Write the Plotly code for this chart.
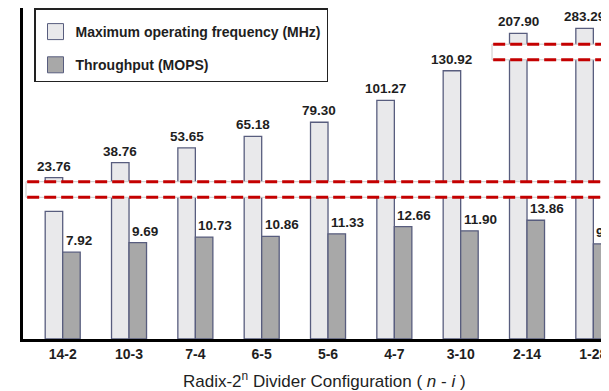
import plotly.graph_objects as go

# ---------------- data ----------------
categories = ["14-2", "10-3", "7-4", "6-5", "5-6", "4-7", "3-10", "2-14", "1-28"]
max_freq_mhz = [23.76, 38.76, 53.65, 65.18, 79.30, 101.27, 130.92, 207.90, 283.29]
throughput_mops = [7.92, 9.69, 10.73, 10.86, 11.33, 12.66, 11.90, 13.86, 9.47]

freq_name = "Maximum operating frequency (MHz)"
thr_name = "Throughput (MOPS)"
x_title = "Radix-2<sup>n</sup> Divider Configuration ( <i>n</i> - <i>i</i> )"

# ---------------- style ----------------
OFF = 8                      # page body margin in the browser
W, H = 609 - OFF, 391 - OFF
ML, MR, MT, MB = 23 - OFF, 0, 0, 52
PH = H - MT - MB             # plot height in px
PW = W - ML - MR


def py(p):  # page pixel row -> paper y
    return 1 - (p - OFF - MT) / PH


def px(p):  # page pixel column -> paper x
    return (p - OFF - ML) / PW


FONT = "Arial, Liberation Sans, sans-serif"
TXT = "#1e1e1e"
LIGHT = "#e9e9eb"
DARK = "#a8a8a8"
EDGE = "#585d7e"
RED = "#c40000"

LOW_RANGE = [-8.25, 19.59]     # lower segment (throughput)
MID_RANGE = [11.9, 149.7]      # middle segment (frequency)
TOP_RANGE = [-74.1, 589.4]     # top segment (very high frequency)
BREAK1_PX, BREAK2_PX, HALF = 189.5, 52.0, 7.8
BAR_W = 0.264

fig = go.Figure()

bar_line = dict(color=EDGE, width=1.3)

# lower segment: throughput + clipped frequency bars
fig.add_trace(go.Bar(x=categories, y=max_freq_mhz, base=LOW_RANGE[0], width=BAR_W, offset=-BAR_W,
                     marker=dict(color=LIGHT, line=bar_line), yaxis="y", showlegend=False))
fig.add_trace(go.Bar(x=categories, y=[v - LOW_RANGE[0] for v in throughput_mops], base=LOW_RANGE[0],
                     width=BAR_W, offset=0,
                     marker=dict(color=DARK, line=bar_line), yaxis="y", showlegend=False))
# middle segment
fig.add_trace(go.Bar(x=categories, y=max_freq_mhz, width=BAR_W, offset=-BAR_W,
                     marker=dict(color=LIGHT, line=bar_line), yaxis="y2", showlegend=False))
# top segment: only values above the middle break
hi_cats = [c for c, v in zip(categories, max_freq_mhz) if v > MID_RANGE[1]]
hi_vals = [v for v in max_freq_mhz if v > MID_RANGE[1]]
fig.add_trace(go.Bar(x=hi_cats, y=hi_vals, width=BAR_W, offset=-BAR_W,
                     marker=dict(color=LIGHT, line=bar_line), yaxis="y3", showlegend=False))

# legend entries
fig.add_trace(go.Scatter(x=[None], y=[None], mode="markers", name=freq_name, legendgroup="f",
                         marker=dict(symbol="square", size=16, color=LIGHT, line=dict(color=EDGE, width=1))))
fig.add_trace(go.Scatter(x=[None], y=[None], mode="markers", name=thr_name, legendgroup="t",
                         marker=dict(symbol="square", size=16, color=DARK, line=dict(color=EDGE, width=1))))

annotations = []
lab_font = dict(family=FONT, size=13.5, color=TXT, weight="bold")
for c, v in zip(categories, max_freq_mhz):
    annotations.append(dict(x=c, y=v, yref="y2" if v <= MID_RANGE[1] else "y3", xref="x",
                            text=f"{v:.2f}", showarrow=False, yanchor="bottom", xanchor="center",
                            xshift=-8.75, yshift=2, font=lab_font))
for c, v in zip(categories, throughput_mops):
    annotations.append(dict(x=c, y=v, yref="y", xref="x", text=f"{v:.2f}", showarrow=False,
                            yanchor="bottom", xanchor="left", xshift=1, yshift=2, font=lab_font))
annotations.append(dict(x=px(324), y=py(380), xref="paper", yref="paper",
                        text=x_title, showarrow=False, xanchor="center", yanchor="middle",
                        font=dict(family=FONT, size=17, color=TXT)))

shapes = []
for cpx, x0 in ((BREAK1_PX, px(26)), (BREAK2_PX, px(492))):
    y_top, y_bot = py(cpx - HALF), py(cpx + HALF)
    shapes.append(dict(type="rect", xref="paper", yref="paper", x0=x0, x1=1.05, y0=y_bot, y1=y_top,
                       fillcolor="white", line=dict(color="#c8c8c8", width=1), layer="above"))
    for yy in (y_top, y_bot):
        shapes.append(dict(type="line", xref="paper", yref="paper", x0=x0 + 0.002, x1=1.05, y0=yy, y1=yy,
                           line=dict(color=RED, width=3, dash="12px,5px"), layer="above"))

yax_common = dict(showgrid=False, zeroline=False, showticklabels=False, ticks="",
                  showline=True, linecolor="black", linewidth=3, anchor="x")
fig.update_layout(
    width=W, height=H,
    margin=dict(l=ML, r=MR, t=MT, b=MB),
    paper_bgcolor="white", plot_bgcolor="white",
    barmode="overlay",
    font=dict(family=FONT, color=TXT),
    xaxis=dict(type="category", range=[-0.5985, 8.236], showgrid=False, zeroline=False,
               showline=True, linecolor="black", linewidth=3, ticks="", anchor="y",
               tickfont=dict(family=FONT, size=14, color=TXT, weight="bold")),
    yaxis=dict(domain=[0, py(BREAK1_PX)], range=LOW_RANGE, **yax_common),
    yaxis2=dict(domain=[py(BREAK1_PX), py(BREAK2_PX)], range=MID_RANGE, **yax_common),
    yaxis3=dict(domain=[py(BREAK2_PX), 1], range=TOP_RANGE, **yax_common),
    legend=dict(x=px(34), y=py(8), xanchor="left", yanchor="top",
                bordercolor="#222222", borderwidth=1.5, bgcolor="white",
                font=dict(family=FONT, size=14, color=TXT, weight="bold"),
                title=dict(text=" ", font=dict(size=5)),
                traceorder="grouped", tracegroupgap=12),
    annotations=annotations,
    shapes=shapes,
)

fig.write_html("out.html")
